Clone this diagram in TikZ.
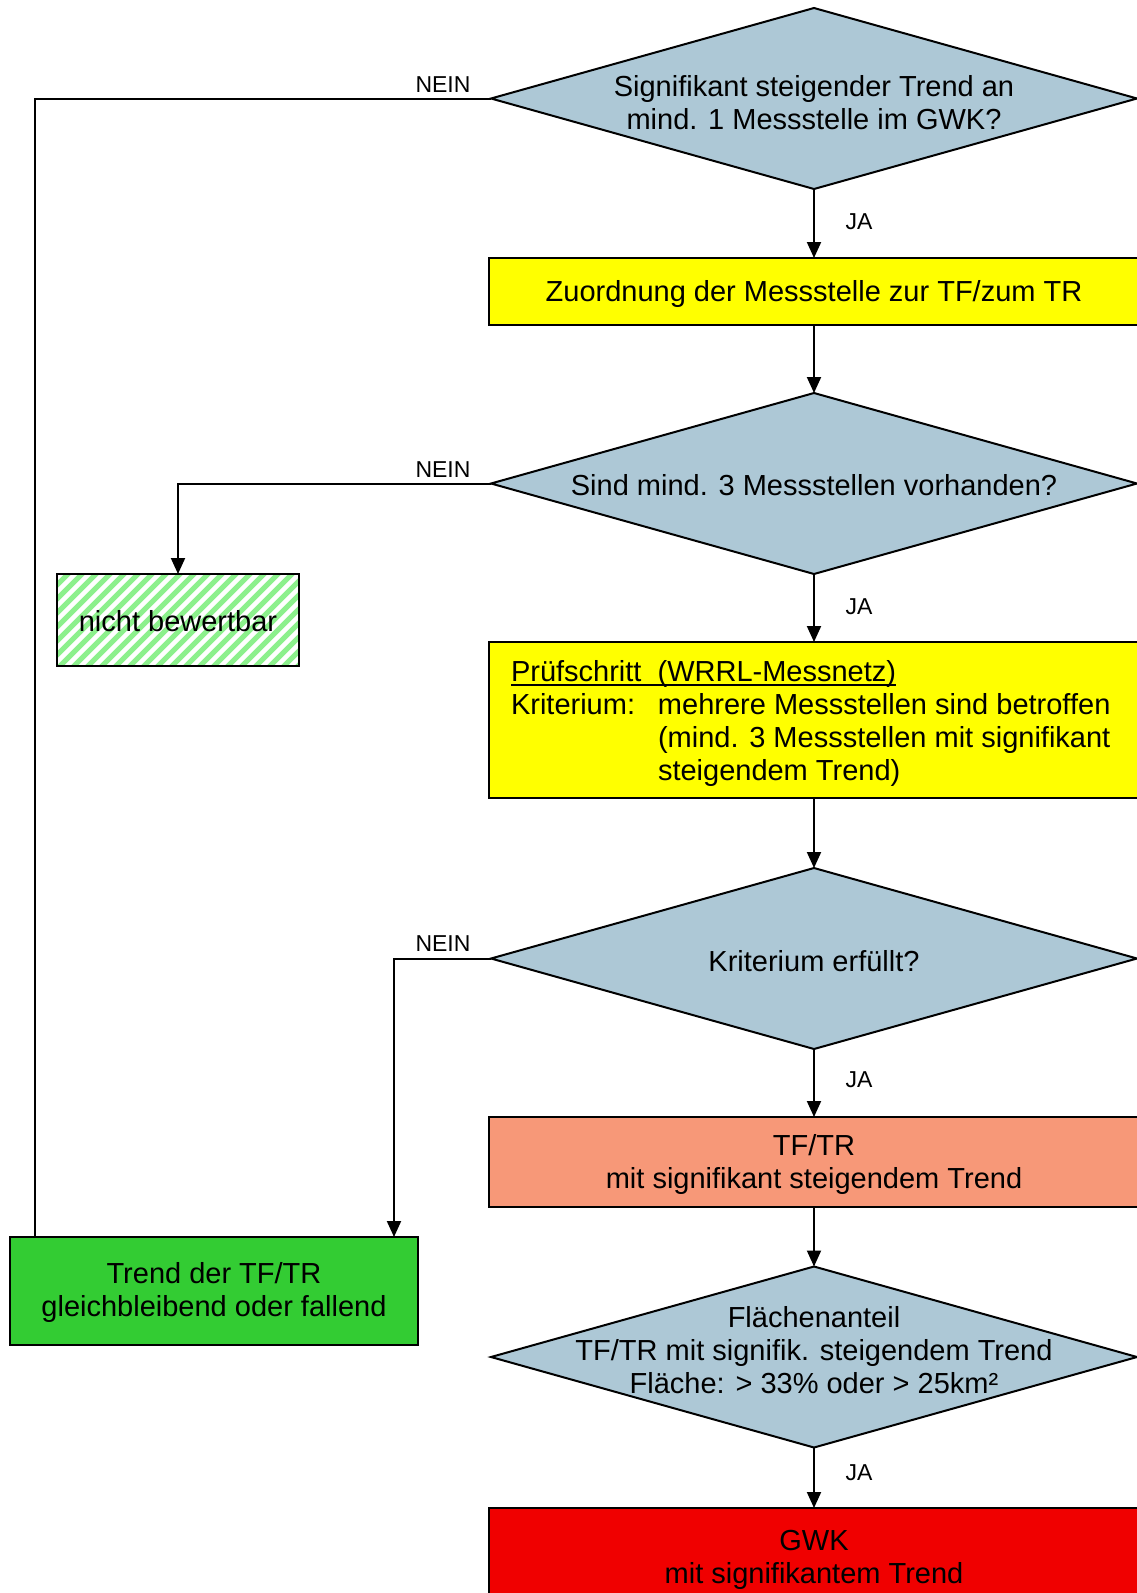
\documentclass[tikz,border=0pt]{standalone}
\usepackage{fontspec}
\setmainfont{Liberation Sans}
\usetikzlibrary{shapes.geometric,arrows.meta}
\definecolor{diablue}{RGB}{173,200,214}
\definecolor{boxyellow}{RGB}{255,255,0}
\definecolor{boxsalmon}{RGB}{247,152,120}
\definecolor{boxred}{RGB}{240,0,0}
\definecolor{boxgreen}{RGB}{51,204,51}
\definecolor{hatchgreen}{RGB}{140,240,140}
\newcommand{\myul}[1]{\setbox0\hbox{#1}\rlap{\rule[-4.5pt]{\wd0}{1.8pt}}\box0}
\begin{document}
\begin{tikzpicture}[x=1pt,y=-1pt,
  every node/.style={inner sep=0pt, outer sep=0pt},
  dia/.style={diamond, draw=black, line width=2pt, fill=diablue, minimum width=646pt, minimum height=181pt, inner sep=0pt},
  box/.style={rectangle, draw=black, line width=2pt, align=center, font=\fontsize{29}{33}\selectfont},
  txt/.style={align=center, font=\fontsize{29}{33}\selectfont},
  lbl/.style={font=\fontsize{23}{26}\selectfont},
  conn/.style={line width=2pt},
  arr/.style={conn, -{Triangle[width=14pt,length=16pt]}},
]
\useasboundingbox (0,0) rectangle (1137,1593);
\clip (0,0) rectangle (1137,1593);
\fill[white] (0,0) rectangle (1137,1593);

% diamonds and boxes
\node[dia] (d1) at (814,98.5) {};
\node[txt] (t1) at (814,103) {Signifikant steigender Trend an\\mind. 1 Messstelle im GWK?};

\node[box, fill=boxyellow, minimum width=650pt, minimum height=67pt] (b1) at (814,291.5) {};
\node[txt] (t2) at (814,293.5) {Zuordnung der Messstelle zur TF/zum TR};

\node[dia] (d2) at (814,483.5) {};
\node[txt] (t3) at (814,485) {Sind mind. 3 Messstellen vorhanden?};

\node[box, fill=boxyellow, minimum width=650pt, minimum height=156pt] (b2) at (814,720) {};
\node[txt, align=left, anchor=west] (t4) at (511,723) {\myul{Prüfschritt\ \ (WRRL-Messnetz)}\\
\makebox[147pt][l]{Kriterium:}mehrere Messstellen sind betroffen\\
\hspace*{147pt}(mind. 3 Messstellen mit signifikant\\
\hspace*{147pt}steigendem Trend)};

\node[dia] (d3) at (814,958.5) {};
\node[txt] (t5) at (814,961) {Kriterium erfüllt?};

\node[box, fill=boxsalmon, minimum width=650pt, minimum height=90pt] (b3) at (814,1162) {};
\node[txt] (t6) at (814,1164) {TF/TR\\mit signifikant steigendem Trend};

\node[dia] (d4) at (814,1357) {};
\node[txt] (t7) at (814,1350) {Flächenanteil\\TF/TR mit signifik. steigendem Trend\\Fläche: > 33\% oder > 25km²};

\node[box, fill=boxred, minimum width=650pt, minimum height=100pt] (b4) at (814,1558) {};
\node[txt] (t8) at (814,1560) {GWK\\mit signifikantem Trend};

\node[box, fill=boxgreen, minimum width=408pt, minimum height=108pt] (g) at (214,1291) {};
\node[txt] (t9) at (214,1292) {Trend der TF/TR\\gleichbleibend oder fallend};

% hatched box
\begin{scope}
\clip (57,574) rectangle (299,666);
\foreach \i in {0,...,26} \draw[hatchgreen, line width=5pt] ({-43+\i*14},671) -- ++(102,-102);
\end{scope}
\node[box, minimum width=242pt, minimum height=92pt] (h) at (178,620) {};
\node[txt] (t10) at (178,621) {nicht bewertbar};

% connectors
\draw[arr] (d1.south) -- (b1.north);
\draw[arr] (b1.south) -- (d2.north);
\draw[arr] (d2.south) -- (b2.north);
\draw[arr] (b2.south) -- (d3.north);
\draw[arr] (d3.south) -- (b3.north);
\draw[arr] (b3.south) -- (d4.north);
\draw[arr] (d4.south) -- (b4.north);
\draw[conn] (d1.west) -| ([xshift=25pt]g.north west);
\draw[arr] (d2.west) -| (h.north);
\draw[arr] (d3.west) -| ([xshift=-24pt]g.north east);

% labels
\node[lbl] (n1) at (443,85) {NEIN};
\node[lbl] (n2) at (443,469.5) {NEIN};
\node[lbl] (n3) at (443,944) {NEIN};
\node[lbl] (j1) at (859,221.5) {JA};
\node[lbl] (j2) at (859,607) {JA};
\node[lbl] (j3) at (859,1080) {JA};
\node[lbl] (j4) at (859,1473) {JA};
\end{tikzpicture}
\end{document}
